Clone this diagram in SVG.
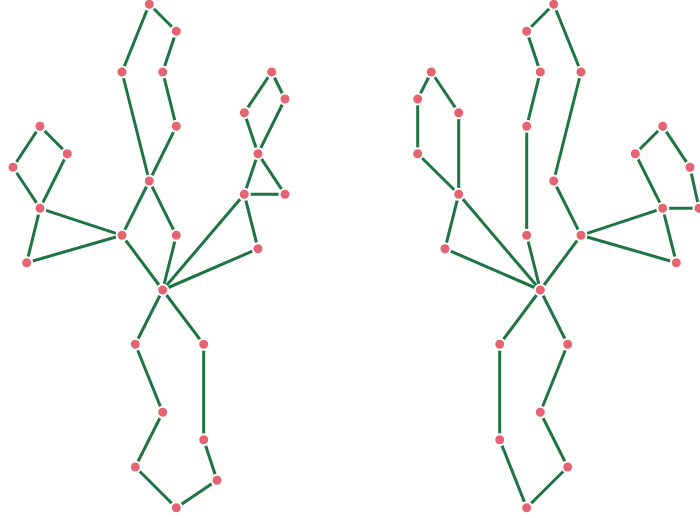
<svg xmlns="http://www.w3.org/2000/svg" width="700" height="518" viewBox="0 0 700 518">
<style>
.e line{stroke:#1f7444;stroke-width:3;stroke-linecap:butt}
.n circle{fill:#e56472;stroke:#ffffff;stroke-width:2}
</style>
<rect width="700" height="518" fill="#ffffff"/>
<g class="e" id="connectors">
<!-- left graph -->
<line x1="149.3" y1="4.3" x2="176.3" y2="31.3"/>
<line x1="149.3" y1="4.3" x2="122" y2="72"/>
<line x1="176.3" y1="31.3" x2="162.7" y2="72"/>
<line x1="122" y1="72" x2="149.3" y2="181"/>
<line x1="162.7" y1="72" x2="176.3" y2="126.3"/>
<line x1="176.3" y1="126.3" x2="149.3" y2="181"/>
<line x1="149.3" y1="181" x2="122" y2="235.3"/>
<line x1="149.3" y1="181" x2="176.3" y2="235.3"/>
<line x1="122" y1="235.3" x2="162.7" y2="290"/>
<line x1="176.3" y1="235.3" x2="162.7" y2="290"/>
<line x1="40" y1="126.3" x2="67.3" y2="153.7"/>
<line x1="40" y1="126.3" x2="13" y2="167.3"/>
<line x1="13" y1="167.3" x2="40" y2="208.3"/>
<line x1="67.3" y1="153.7" x2="40" y2="208.3"/>
<line x1="40" y1="208.3" x2="122" y2="235.3"/>
<line x1="40" y1="208.3" x2="26.7" y2="262.7"/>
<line x1="26.7" y1="262.7" x2="122" y2="235.3"/>
<line x1="271.7" y1="72" x2="244.3" y2="112.7"/>
<line x1="271.7" y1="72" x2="285" y2="99"/>
<line x1="285" y1="99" x2="258" y2="153.7"/>
<line x1="244.3" y1="112.7" x2="258" y2="153.7"/>
<line x1="258" y1="153.7" x2="244.3" y2="194.3"/>
<line x1="258" y1="153.7" x2="285" y2="194.3"/>
<line x1="244.3" y1="194.3" x2="285" y2="194.3"/>
<line x1="244.3" y1="194.3" x2="258" y2="248.7"/>
<line x1="244.3" y1="194.3" x2="162.7" y2="290"/>
<line x1="258" y1="248.7" x2="162.7" y2="290"/>
<line x1="162.7" y1="290" x2="135.3" y2="344.3"/>
<line x1="162.7" y1="290" x2="203.7" y2="344.3"/>
<line x1="135.3" y1="344.3" x2="162.7" y2="412.3"/>
<line x1="162.7" y1="412.3" x2="135.3" y2="467"/>
<line x1="135.3" y1="467" x2="176.3" y2="507.7"/>
<line x1="176.3" y1="507.7" x2="217" y2="480.3"/>
<line x1="217" y1="480.3" x2="203.7" y2="439.7"/>
<line x1="203.7" y1="439.7" x2="203.7" y2="344.3"/>
<!-- right graph -->
<line x1="553.7" y1="4.3" x2="526.7" y2="31.3"/>
<line x1="553.7" y1="4.3" x2="581" y2="72"/>
<line x1="526.7" y1="31.3" x2="540.3" y2="72"/>
<line x1="540.3" y1="72" x2="526.7" y2="126.3"/>
<line x1="526.7" y1="126.3" x2="526.7" y2="235.3"/>
<line x1="581" y1="72" x2="553.7" y2="181"/>
<line x1="553.7" y1="181" x2="581" y2="235.3"/>
<line x1="526.7" y1="235.3" x2="540.3" y2="290"/>
<line x1="581" y1="235.3" x2="540.3" y2="290"/>
<line x1="431.3" y1="72" x2="417.7" y2="99"/>
<line x1="431.3" y1="72" x2="458.7" y2="112.7"/>
<line x1="417.7" y1="99" x2="417.7" y2="153.7"/>
<line x1="458.7" y1="112.7" x2="458.7" y2="194.3"/>
<line x1="417.7" y1="153.7" x2="458.7" y2="194.3"/>
<line x1="458.7" y1="194.3" x2="445" y2="248.7"/>
<line x1="458.7" y1="194.3" x2="540.3" y2="290"/>
<line x1="445" y1="248.7" x2="540.3" y2="290"/>
<line x1="662.7" y1="126.3" x2="635.3" y2="153.7"/>
<line x1="662.7" y1="126.3" x2="690" y2="167.3"/>
<line x1="635.3" y1="153.7" x2="662.7" y2="208.3"/>
<line x1="690" y1="167.3" x2="699" y2="208.3"/>
<line x1="662.7" y1="208.3" x2="699" y2="208.3"/>
<line x1="662.7" y1="208.3" x2="676.3" y2="262.7"/>
<line x1="581" y1="235.3" x2="662.7" y2="208.3"/>
<line x1="581" y1="235.3" x2="676.3" y2="262.7"/>
<line x1="540.3" y1="290" x2="499.7" y2="344.3"/>
<line x1="540.3" y1="290" x2="567.7" y2="344.3"/>
<line x1="499.7" y1="344.3" x2="499.7" y2="439.7"/>
<line x1="499.7" y1="439.7" x2="526.7" y2="507.7"/>
<line x1="526.7" y1="507.7" x2="567.7" y2="467"/>
<line x1="567.7" y1="467" x2="540.3" y2="412.3"/>
<line x1="540.3" y1="412.3" x2="567.7" y2="344.3"/>
</g>
<g class="n" id="nodes">
<g id="l1"><circle cx="149.3" cy="4.3" r="5.5"/></g>
<g id="l2"><circle cx="176.3" cy="31.3" r="5.5"/></g>
<g id="l3"><circle cx="122" cy="72" r="5.5"/></g>
<g id="l4"><circle cx="162.7" cy="72" r="5.5"/></g>
<g id="l5"><circle cx="176.3" cy="126.3" r="5.5"/></g>
<g id="l6"><circle cx="149.3" cy="181" r="5.5"/></g>
<g id="l7"><circle cx="122" cy="235.3" r="5.5"/></g>
<g id="l8"><circle cx="176.3" cy="235.3" r="5.5"/></g>
<g id="l9"><circle cx="162.7" cy="290" r="5.5"/></g>
<g id="l10"><circle cx="40" cy="126.3" r="5.5"/></g>
<g id="l11"><circle cx="67.3" cy="153.7" r="5.5"/></g>
<g id="l12"><circle cx="13" cy="167.3" r="5.5"/></g>
<g id="l13"><circle cx="40" cy="208.3" r="5.5"/></g>
<g id="l14"><circle cx="26.7" cy="262.7" r="5.5"/></g>
<g id="l15"><circle cx="271.7" cy="72" r="5.5"/></g>
<g id="l16"><circle cx="285" cy="99" r="5.5"/></g>
<g id="l17"><circle cx="244.3" cy="112.7" r="5.5"/></g>
<g id="l18"><circle cx="258" cy="153.7" r="5.5"/></g>
<g id="l19"><circle cx="244.3" cy="194.3" r="5.5"/></g>
<g id="l20"><circle cx="285" cy="194.3" r="5.5"/></g>
<g id="l21"><circle cx="258" cy="248.7" r="5.5"/></g>
<g id="l22"><circle cx="135.3" cy="344.3" r="5.5"/></g>
<g id="l23"><circle cx="203.7" cy="344.3" r="5.5"/></g>
<g id="l24"><circle cx="162.7" cy="412.3" r="5.5"/></g>
<g id="l25"><circle cx="203.7" cy="439.7" r="5.5"/></g>
<g id="l26"><circle cx="135.3" cy="467" r="5.5"/></g>
<g id="l27"><circle cx="217" cy="480.3" r="5.5"/></g>
<g id="l28"><circle cx="176.3" cy="507.7" r="5.5"/></g>
<g id="r1"><circle cx="553.7" cy="4.3" r="5.5"/></g>
<g id="r2"><circle cx="526.7" cy="31.3" r="5.5"/></g>
<g id="r3"><circle cx="540.3" cy="72" r="5.5"/></g>
<g id="r4"><circle cx="581" cy="72" r="5.5"/></g>
<g id="r5"><circle cx="526.7" cy="126.3" r="5.5"/></g>
<g id="r6"><circle cx="553.7" cy="181" r="5.5"/></g>
<g id="r7"><circle cx="526.7" cy="235.3" r="5.5"/></g>
<g id="r8"><circle cx="581" cy="235.3" r="5.5"/></g>
<g id="r9"><circle cx="540.3" cy="290" r="5.5"/></g>
<g id="r10"><circle cx="431.3" cy="72" r="5.5"/></g>
<g id="r11"><circle cx="417.7" cy="99" r="5.5"/></g>
<g id="r12"><circle cx="458.7" cy="112.7" r="5.5"/></g>
<g id="r13"><circle cx="417.7" cy="153.7" r="5.5"/></g>
<g id="r14"><circle cx="458.7" cy="194.3" r="5.5"/></g>
<g id="r15"><circle cx="445" cy="248.7" r="5.5"/></g>
<g id="r16"><circle cx="662.7" cy="126.3" r="5.5"/></g>
<g id="r17"><circle cx="635.3" cy="153.7" r="5.5"/></g>
<g id="r18"><circle cx="690" cy="167.3" r="5.5"/></g>
<g id="r19"><circle cx="662.7" cy="208.3" r="5.5"/></g>
<g id="r20"><circle cx="699" cy="208.3" r="5.5"/></g>
<g id="r21"><circle cx="676.3" cy="262.7" r="5.5"/></g>
<g id="r22"><circle cx="499.7" cy="344.3" r="5.5"/></g>
<g id="r23"><circle cx="567.7" cy="344.3" r="5.5"/></g>
<g id="r24"><circle cx="540.3" cy="412.3" r="5.5"/></g>
<g id="r25"><circle cx="499.7" cy="439.7" r="5.5"/></g>
<g id="r26"><circle cx="567.7" cy="467" r="5.5"/></g>
<g id="r27"><circle cx="526.7" cy="507.7" r="5.5"/></g>
</g>
</svg>
